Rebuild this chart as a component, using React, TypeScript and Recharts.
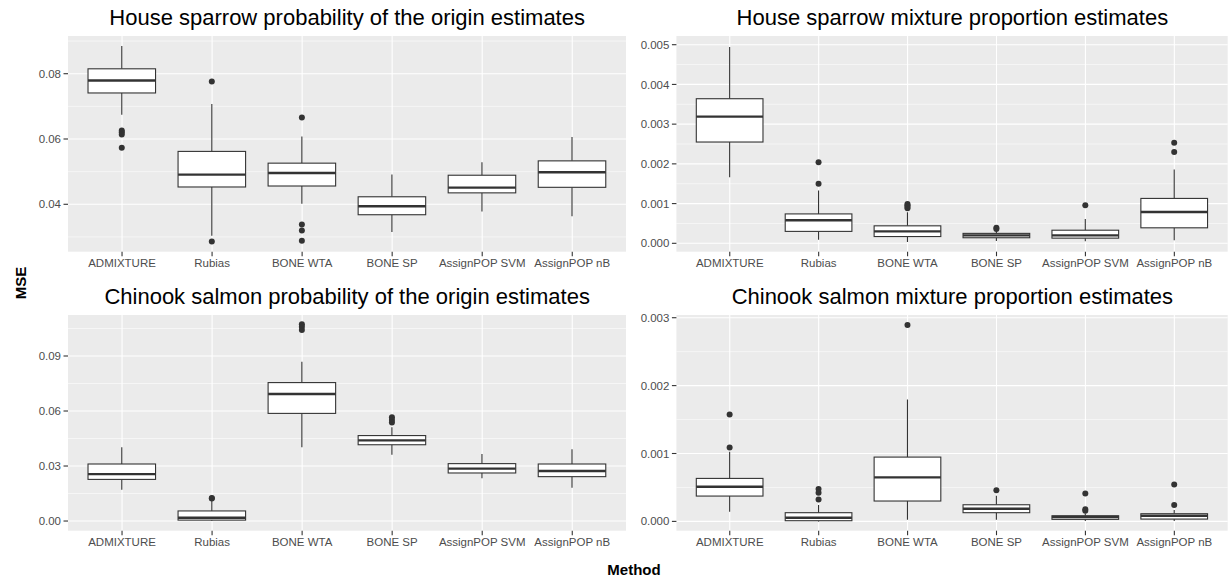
import React from 'react';
import { ComposedChart, Bar, XAxis, YAxis, CartesianGrid } from 'recharts';

// ---------- data ----------
const methods = ['ADMIXTURE', 'Rubias', 'BONE WTA', 'BONE SP', 'AssignPOP SVM', 'AssignPOP nB'];

// each row: [whisker low, Q1, median, Q3, whisker high]
const hsProbStats = [
  [0.0674, 0.0741, 0.0779, 0.0815, 0.0885],
  [0.0304, 0.0453, 0.0491, 0.0562, 0.0707],
  [0.0402, 0.0456, 0.0496, 0.0526, 0.0608],
  [0.0315, 0.0368, 0.0394, 0.0423, 0.0491],
  [0.0378, 0.0435, 0.0451, 0.0489, 0.0529],
  [0.0363, 0.0452, 0.0498, 0.0533, 0.0606],
];
const hsProbOutliers = [
  [0.0626, 0.0621, 0.0614, 0.0573],
  [0.0776, 0.0286],
  [0.0666, 0.0338, 0.032, 0.0288],
  [],
  [],
  [],
];
const hsProbTicks = [0.04, 0.06, 0.08];
const hsProbMinor = [0.03, 0.05, 0.07, 0.09];
const hsProbDomain = [0.02548, 0.09155];

const hsMixStats = [
  [0.00166, 0.00255, 0.00319, 0.00364, 0.00494],
  [0.00009, 0.0003, 0.00058, 0.00074, 0.00133],
  [0.00003, 0.00017, 0.0003, 0.00044, 0.00078],
  [0.00006, 0.00014, 0.0002, 0.00025, 0.00033],
  [0.00005, 0.00013, 0.0002, 0.00033, 0.00061],
  [0.00008, 0.00039, 0.00079, 0.00113, 0.00186],
];
const hsMixOutliers = [
  [],
  [0.00204, 0.0015],
  [0.00088, 0.00092, 0.00096, 0.00099],
  [0.00039, 0.00036],
  [0.00096],
  [0.00253, 0.0023],
];
const hsMixTicks = [0, 0.001, 0.002, 0.003, 0.004, 0.005];
const hsMixMinor = [0.0005, 0.0015, 0.0025, 0.0035, 0.0045];
const hsMixDomain = [-0.000211, 0.005219];

const csProbStats = [
  [0.0171, 0.0227, 0.0256, 0.0311, 0.0402],
  [0.0001, 0.0005, 0.0018, 0.0055, 0.0112],
  [0.0402, 0.0587, 0.0693, 0.0755, 0.0869],
  [0.0362, 0.0416, 0.044, 0.0466, 0.0511],
  [0.0233, 0.0262, 0.0286, 0.0313, 0.0366],
  [0.0182, 0.0242, 0.0273, 0.0311, 0.0391],
];
const csProbOutliers = [
  [],
  [0.0126, 0.0123],
  [0.1073, 0.106, 0.1042],
  [0.0566, 0.0551, 0.0537],
  [],
  [],
];
const csProbTicks = [0, 0.03, 0.06, 0.09];
const csProbMinor = [0.015, 0.045, 0.075, 0.105];
const csProbDomain = [-0.00527, 0.11236];

const csMixStats = [
  [0.000142, 0.000373, 0.000511, 0.000633, 0.001026],
  [0.0, 0.00001, 0.000054, 0.000128, 0.00024],
  [0.000025, 0.0003, 0.000648, 0.000947, 0.001797],
  [0.000025, 0.000128, 0.000187, 0.000245, 0.000378],
  [0.000005, 0.00003, 0.000064, 0.000083, 0.000118],
  [0.000005, 0.000034, 0.000083, 0.000113, 0.000167],
];
const csMixOutliers = [
  [0.001576, 0.00109],
  [0.000476, 0.000422, 0.000324],
  [0.002892],
  [0.000457],
  [0.000412, 0.000177, 0.000157],
  [0.000545, 0.00024],
];
const csMixTicks = [0, 0.001, 0.002, 0.003];
const csMixMinor = [0.0005, 0.0015, 0.0025];
const csMixDomain = [-0.000137, 0.00304];

const titles = [
  'House sparrow probability of the origin estimates',
  'House sparrow mixture proportion estimates',
  'Chinook salmon probability of the origin estimates',
  'Chinook salmon mixture proportion estimates',
];
const xTitle = 'Method';
const yTitle = 'MSE';

// ---------- layout ----------
const FONT = '"Liberation Sans", Arial, Helvetica, sans-serif';
const W = 1228;
const H = 581;
const LEFT_PANEL_X0 = 68;
const LEFT_PANEL_X1 = 626.3;
const RIGHT_PANEL_X0 = 676.7;
const RIGHT_PANEL_X1 = 1228;
const TOP_PANEL_Y0 = 36;
const BOTTOM_PANEL_Y0 = 315;
const PANEL_H = 215.7;
const X_AXIS_H = 26;
const TOP_PAD = 10;
const BOX_FRAC = 0.75;

type Row = {
  method: string;
  range: number[];
  wlo: number;
  q1: number;
  med: number;
  q3: number;
  whi: number;
  outs: number[];
};

function buildRows(stats: number[][], outliers: number[][]): Row[] {
  return methods.map((m, i) => {
    const [wlo, q1, med, q3, whi] = stats[i];
    const outs = outliers[i];
    return {
      method: m,
      range: [Math.min(wlo, ...outs), Math.max(whi, ...outs)],
      wlo,
      q1,
      med,
      q3,
      whi,
      outs,
    };
  });
}

function applyScale(s: any, v: any): number {
  try {
    if (typeof s === 'function') return s(v);
    if (s && typeof s.map === 'function') return s.map(v);
    if (s && typeof s.apply === 'function') return s.apply(v);
  } catch (e) {
    return NaN;
  }
  return NaN;
}

function bandOf(s: any): number {
  try {
    if (s && typeof s.bandwidth === 'function') return s.bandwidth() || 0;
  } catch (e) {
    return 0;
  }
  return 0;
}

const STROKE = '#333333';

function BoxShape(props: any) {
  const { x, y, width, height, payload } = props;
  if (x == null || y == null || width == null || height == null || !payload) return null;
  const [lo, hi] = payload.range;
  const top = Math.min(y, y + height);
  const h = Math.abs(height);
  const py = (v: number) => top + ((hi - v) / (hi - lo)) * h;
  const cx = x + width / 2;
  const yq1 = py(payload.q1);
  const yq3 = py(payload.q3);
  return (
    <g>
      <line x1={cx} x2={cx} y1={py(payload.whi)} y2={yq3} stroke={STROKE} strokeWidth={1.1} />
      <line x1={cx} x2={cx} y1={yq1} y2={py(payload.wlo)} stroke={STROKE} strokeWidth={1.1} />
      <rect x={x} y={yq3} width={width} height={Math.max(0, yq1 - yq3)} fill="#FFFFFF" stroke={STROKE} strokeWidth={1.1} />
      <line x1={x} x2={x + width} y1={py(payload.med)} y2={py(payload.med)} stroke={STROKE} strokeWidth={2.4} />
      {payload.outs.map((o: number, k: number) => (
        <circle key={k} cx={cx} cy={py(o)} r={3} fill={STROKE} />
      ))}
    </g>
  );
}

type PanelProps = {
  stats: number[][];
  outliers: number[][];
  ticks: number[];
  minor: number[];
  domain: number[];
  decimals: number;
  chartLeft: number;
  panelX0: number;
  panelX1: number;
  panelY0: number;
};

function Panel(p: PanelProps) {
  const rows = buildRows(p.stats, p.outliers);
  const yAxisW = p.panelX0 - p.chartLeft;
  const panelW = p.panelX1 - p.panelX0;
  const pad = panelW / 62; // ggplot discrete expansion of 0.6 units
  const band = panelW / 6.2;
  const chartW = p.panelX1 - p.chartLeft;
  const chartH = PANEL_H + X_AXIS_H + TOP_PAD;
  const tickStyle = { fontSize: 11.5, fill: '#4D4D4D', fontFamily: FONT };
  const hGen = (vals: number[]) => (args: any) => {
    const yAxis = args && args.yAxis;
    if (!yAxis) return [];
    return vals.map((v) => applyScale(yAxis.scale, v)).filter((c) => Number.isFinite(c));
  };
  const vGen = (args: any) => {
    const xAxis = args && args.xAxis;
    if (!xAxis) return [];
    const bw = bandOf(xAxis.scale);
    return methods.map((m) => applyScale(xAxis.scale, m) + bw / 2).filter((c) => Number.isFinite(c));
  };
  return (
    <div style={{ position: 'absolute', left: p.chartLeft, top: p.panelY0 - TOP_PAD }}>
      <ComposedChart
        width={chartW}
        height={chartH}
        data={rows}
        margin={{ top: TOP_PAD, right: 0, bottom: 0, left: 0 }}
        style={{ fontFamily: FONT }}
      >
        <CartesianGrid
          fill="#EBEBEB"
          stroke="#FFFFFF"
          strokeWidth={1.1}
          strokeDasharray=""
          horizontalCoordinatesGenerator={hGen(p.ticks)}
          verticalCoordinatesGenerator={vGen}
        />
        <CartesianGrid
          stroke="#FFFFFF"
          strokeWidth={0.55}
          strokeDasharray=""
          vertical={false}
          horizontalCoordinatesGenerator={hGen(p.minor)}
        />
        <XAxis
          dataKey="method"
          type="category"
          height={X_AXIS_H}
          padding={{ left: pad, right: pad }}
          axisLine={false}
          tickLine={{ stroke: '#333333', strokeWidth: 1.1 }}
          tickSize={4.5}
          tickMargin={2.5}
          tick={tickStyle}
          interval={0}
        />
        <YAxis
          type="number"
          width={yAxisW}
          domain={p.domain}
          allowDataOverflow
          ticks={p.ticks}
          axisLine={false}
          tickLine={{ stroke: '#333333', strokeWidth: 1.1 }}
          tickSize={4.5}
          tickMargin={2.5}
          tick={tickStyle}
          tickFormatter={(v: number) => v.toFixed(p.decimals)}
          interval={0}
        />
        <Bar
          dataKey="range"
          barSize={band * BOX_FRAC}
          isAnimationActive={false}
          shape={(props: any) => <BoxShape {...props} />}
        />
      </ComposedChart>
    </div>
  );
}

export default function App() {
  const leftCx = (LEFT_PANEL_X0 + LEFT_PANEL_X1) / 2;
  const rightCx = (RIGHT_PANEL_X0 + RIGHT_PANEL_X1) / 2;
  const titleStyle: React.CSSProperties = { fontFamily: FONT, fontSize: 22, fill: '#000000' };
  return (
    <div style={{ position: 'absolute', left: 0, top: 0, width: W, height: H, background: '#FFFFFF', overflow: 'hidden' }}>
      <Panel stats={hsProbStats} outliers={hsProbOutliers} ticks={hsProbTicks} minor={hsProbMinor} domain={hsProbDomain} decimals={2}
        chartLeft={0} panelX0={LEFT_PANEL_X0} panelX1={LEFT_PANEL_X1} panelY0={TOP_PANEL_Y0} />
      <Panel stats={hsMixStats} outliers={hsMixOutliers} ticks={hsMixTicks} minor={hsMixMinor} domain={hsMixDomain} decimals={3}
        chartLeft={LEFT_PANEL_X1} panelX0={RIGHT_PANEL_X0} panelX1={RIGHT_PANEL_X1} panelY0={TOP_PANEL_Y0} />
      <Panel stats={csProbStats} outliers={csProbOutliers} ticks={csProbTicks} minor={csProbMinor} domain={csProbDomain} decimals={2}
        chartLeft={0} panelX0={LEFT_PANEL_X0} panelX1={LEFT_PANEL_X1} panelY0={BOTTOM_PANEL_Y0} />
      <Panel stats={csMixStats} outliers={csMixOutliers} ticks={csMixTicks} minor={csMixMinor} domain={csMixDomain} decimals={3}
        chartLeft={LEFT_PANEL_X1} panelX0={RIGHT_PANEL_X0} panelX1={RIGHT_PANEL_X1} panelY0={BOTTOM_PANEL_Y0} />
      <svg width={W} height={H} style={{ position: 'absolute', left: 0, top: 0, pointerEvents: 'none' }}>
        <text x={leftCx} y={TOP_PANEL_Y0 - 11} textAnchor="middle" style={titleStyle}>{titles[0]}</text>
        <text x={rightCx} y={TOP_PANEL_Y0 - 11} textAnchor="middle" style={titleStyle}>{titles[1]}</text>
        <text x={leftCx} y={BOTTOM_PANEL_Y0 - 11} textAnchor="middle" style={titleStyle}>{titles[2]}</text>
        <text x={rightCx} y={BOTTOM_PANEL_Y0 - 11} textAnchor="middle" style={titleStyle}>{titles[3]}</text>
        <text x={634} y={575} textAnchor="middle" style={{ fontFamily: FONT, fontSize: 15, fontWeight: 'bold', fill: '#000000' }}>{xTitle}</text>
        <text transform="translate(26,283) rotate(-90)" textAnchor="middle" style={{ fontFamily: FONT, fontSize: 15, fontWeight: 'bold', fill: '#000000' }}>{yTitle}</text>
      </svg>
    </div>
  );
}
